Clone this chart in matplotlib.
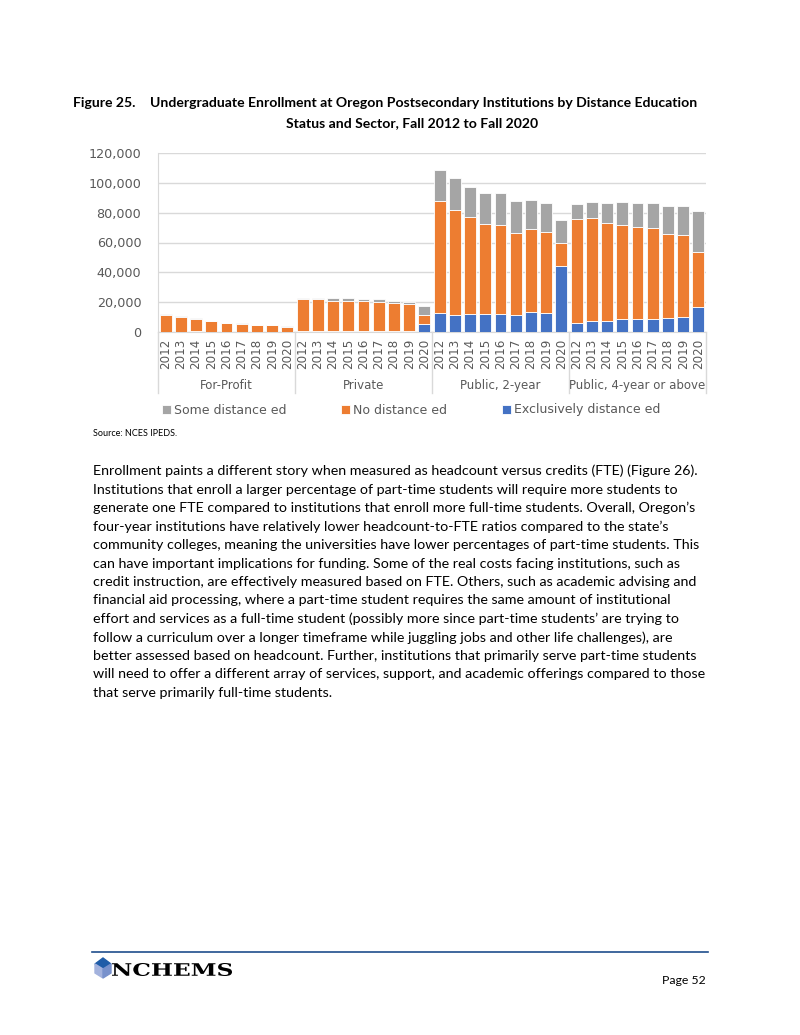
import numpy as np
import matplotlib
matplotlib.use("Agg")
import matplotlib.pyplot as plt
from matplotlib.textpath import TextPath
from matplotlib.font_manager import FontProperties
from matplotlib.patches import PathPatch, Polygon
from matplotlib.transforms import Affine2D, blended_transform_factory

# ---- data ----
sectors = ["For-Profit", "Private", "Public, 2-year", "Public, 4-year or above"]
years = ["2012", "2013", "2014", "2015", "2016", "2017", "2018", "2019", "2020"]

exclusively = [300, 200, 500, 300, 200, 200, 200, 200, 200,
               900, 900, 800, 800, 900, 900, 900, 850, 5600,
               12500, 11100, 12000, 12000, 11800, 11100, 13100, 12500, 44300,
               6200, 7100, 7300, 8500, 8700, 8900, 9400, 10200, 16500]
no_distance = [10800, 9600, 8400, 6800, 5800, 5100, 4500, 4250, 3400,
               20900, 20900, 20300, 20300, 19800, 19400, 18500, 18000, 5500,
               75200, 70850, 65300, 60600, 59700, 55500, 55700, 54500, 15600,
               69500, 69100, 66000, 63200, 61500, 61000, 56100, 54800, 37200]
some_distance = [1100, 700, 700, 500, 300, 400, 300, 300, 400,
                 1100, 1100, 1600, 1600, 1300, 1500, 1500, 1550, 6500,
                 21200, 21150, 19800, 20500, 21800, 21100, 19800, 19600, 14900,
                 10000, 11100, 12900, 15200, 16400, 16500, 19100, 19600, 27600]

body = [
    "Enrollment paints a different story when measured as headcount versus credits (FTE) (Figure 26).",
    "Institutions that enroll a larger percentage of part-time students will require more students to",
    "generate one FTE compared to institutions that enroll more full-time students. Overall, Oregon\u2019s",
    "four-year institutions have relatively lower headcount-to-FTE ratios compared to the state\u2019s",
    "community colleges, meaning the universities have lower percentages of part-time students. This",
    "can have important implications for funding. Some of the real costs facing institutions, such as",
    "credit instruction, are effectively measured based on FTE. Others, such as academic advising and",
    "financial aid processing, where a part-time student requires the same amount of institutional",
    "effort and services as a full-time student (possibly more since part-time students\u2019 are trying to",
    "follow a curriculum over a longer timeframe while juggling jobs and other life challenges), are",
    "better assessed based on headcount. Further, institutions that primarily serve part-time students",
    "will need to offer a different array of services, support, and academic offerings compared to those",
    "that serve primarily full-time students.",
]

GRAY = "#A5A5A5"
ORANGE = "#ED7D31"
BLUE = "#4472C4"
TICK = "#595959"

W, H = 800, 1035
fig = plt.figure(figsize=(W / 100, H / 100), dpi=100)

# page overlay in pixel coords
page = fig.add_axes([0, 0, 1, 1])
page.set_xlim(0, W)
page.set_ylim(H, 0)
page.axis("off")

# ---- chart ----
ax = fig.add_axes([158 / W, 1 - 332 / H, 548 / W, 179 / H])
labels = [y for s in sectors for y in years]
x = np.arange(len(labels))
b1 = ax.bar(x, exclusively, width=0.78, color=BLUE, edgecolor="white", linewidth=0.6,
            label="Exclusively distance ed", zorder=3)
b2 = ax.bar(x, no_distance, width=0.78, bottom=exclusively, color=ORANGE,
            edgecolor="white", linewidth=0.6, label="No distance ed", zorder=3)
bot = np.array(exclusively) + np.array(no_distance)
b3 = ax.bar(x, some_distance, width=0.78, bottom=bot, color=GRAY,
            edgecolor="white", linewidth=0.6, label="Some distance ed", zorder=3)

ax.set_xlim(-0.5, len(labels) - 0.5)
ax.set_ylim(0, 120000)
ax.set_yticks(np.arange(0, 120001, 20000))
ax.set_yticklabels([f"{v:,}" for v in range(0, 120001, 20000)])
ax.yaxis.grid(True, color="#D9D9D9", linewidth=1, zorder=0)
ax.set_xticks(x)
ax.set_xticklabels(labels, rotation=90)
ax.tick_params(axis="x", length=0, pad=5, labelsize=8.6, labelcolor=TICK)
ax.tick_params(axis="y", length=0, pad=12, labelsize=9.2, labelcolor=TICK)
for sp in ["top", "right"]:
    ax.spines[sp].set_visible(False)
ax.spines["left"].set_color("#D9D9D9")
ax.spines["bottom"].set_color("#D9D9D9")

trans = blended_transform_factory(ax.transData, ax.transAxes)
for bx in [-0.5, 8.5, 17.5, 26.5, 35.5]:
    ax.plot([bx, bx], [0, -0.34], transform=trans, color="#D9D9D9", lw=1, clip_on=False)
for i, s in enumerate(sectors):
    ax.text(i * 9 + 4, -0.3, s, transform=trans, ha="center", va="center",
            fontsize=8.5, color=TICK)

fig.legend(handles=[b3, b2, b1], loc="center", bbox_to_anchor=(411 / W, 1 - 410 / H),
           ncol=3, frameon=False, fontsize=9.0, handlelength=0.7, handleheight=0.7,
           handletextpad=0.25, columnspacing=4.4, labelcolor=TICK)

# ---- title ----
tfont = dict(family="Lato", weight="bold", fontsize=10.1, color="black")
page.text(73, 103, "Figure 25.", ha="left", va="center", **tfont)
page.text(150, 103, "Undergraduate Enrollment at Oregon Postsecondary Institutions by Distance Education",
          ha="left", va="center", **tfont)
page.text(412, 123, "Status and Sector, Fall 2012 to Fall 2020", ha="center", va="center", **tfont)

page.text(93, 433, "Source: NCES IPEDS.", ha="left", va="center", fontsize=6.5,
          family="Lato", color="black")

# ---- body text ----
for i, line in enumerate(body):
    page.text(93, 471 + i * 18.5, line, ha="left", va="center", fontsize=10.3,
              family="Lato", color="black")

# ---- footer ----
page.plot([92, 708], [952, 952], color="#1F4E8C", lw=1.2)
page.add_patch(Polygon([[95, 964], [103, 958], [111, 964], [103, 969]], closed=True,
                       color="#1F5CA8"))
page.add_patch(Polygon([[95, 964], [103, 969], [103, 978], [95, 973]], closed=True,
                       color="#A3B2DD"))
page.add_patch(Polygon([[103, 969], [111, 964], [111, 973], [103, 978]], closed=True,
                       color="#7891CC"))
tp = TextPath((0, 0), "NCHEMS", size=1, prop=FontProperties(family="DejaVu Serif", weight="bold"))
ext = tp.get_extents()
sx = 120 / ext.width
sy = 13 / ext.height
tr = Affine2D().translate(-ext.x0, -ext.y0).scale(sx, -sy).translate(112, 976) + page.transData
page.add_patch(PathPatch(tp, transform=tr, color="black", lw=0))
page.text(706, 981, "Page 52", ha="right", va="center", fontsize=8.8, family="Lato",
          color="black")

fig.savefig("out.png", dpi=100)
